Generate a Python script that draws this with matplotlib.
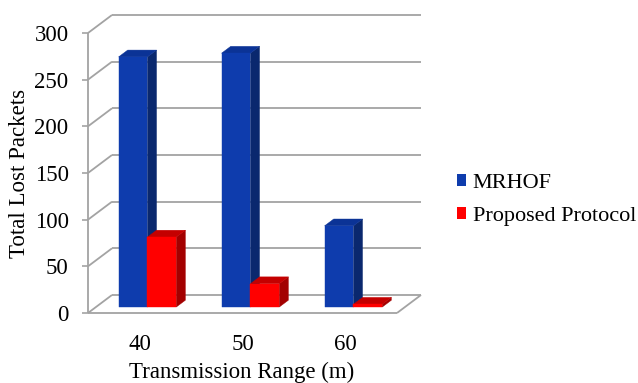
import matplotlib.pyplot as plt
from matplotlib.patches import Polygon, Patch

# Lost packets per transmission range
ranges = ["40", "50", "60"]
mrhof = [268, 272, 87]
proposed = [75, 25, 3]
series_names = ["MRHOF", "Proposed Protocol"]

# face colours: front, side, top
blue = ("#0E3CAD", "#0A286E", "#0B3396")
red = ("#FF0000", "#A30000", "#C40000")
grid_col = "#A3A3A3"

# pseudo-3D depth of the plot box, in data units
depth_dx = 0.233
depth_dy = 19.3
bar_front, bar_back = 0.33, 0.71
bar_w = 0.28

plt.rcParams['font.family'] = ['Liberation Serif', 'DejaVu Serif']

fig = plt.figure(figsize=(6.38, 3.83), dpi=100)
ax = fig.add_axes([88 / 638, 70 / 383, 309 / 638, 280 / 383])
ax.set_xlim(-0.5, 2.5)
ax.set_ylim(0, 300)
for s in ax.spines.values():
    s.set_visible(False)

yticks = list(range(0, 301, 50))
ax.set_yticks(yticks)
ax.set_yticklabels([str(v) for v in yticks], fontsize=16.5)
ax.set_xticks(range(len(ranges)))
ax.set_xticklabels(ranges, fontsize=16.5)
ax.tick_params(axis='y', length=4, width=1.2, color=grid_col, pad=10)
ax.tick_params(axis='x', length=0, pad=15)

x0, x1 = ax.get_xlim()

def line(xs, ys):
    ax.plot(xs, ys, color=grid_col, lw=1.3, clip_on=False, zorder=1,
            solid_capstyle='butt')

# back wall gridlines and left wall diagonals
for v in yticks:
    line([x0 + depth_dx, x1 + depth_dx], [v + depth_dy, v + depth_dy])
    line([x0, x0 + depth_dx], [v, v + depth_dy])
# front vertical axis and floor edges
line([x0, x0], [0, 300])
line([x0, x1], [0, 0])
line([x1, x1 + depth_dx], [0, depth_dy])


def bar3d(xl, h, cols):
    fx, fy = bar_front * depth_dx, bar_front * depth_dy
    bx, by = bar_back * depth_dx, bar_back * depth_dy
    l, r = xl + fx, xl + bar_w + fx
    b, t = fy, fy + h
    ddx, ddy = bx - fx, by - fy
    front = [(l, b), (r, b), (r, t), (l, t)]
    side = [(r, b), (r + ddx, b + ddy), (r + ddx, t + ddy), (r, t)]
    top = [(l, t), (r, t), (r + ddx, t + ddy), (l + ddx, t + ddy)]
    for pts, c in ((side, cols[1]), (top, cols[2]), (front, cols[0])):
        ax.add_patch(Polygon(pts, closed=True, facecolor=c, edgecolor=c,
                             lw=0.3, clip_on=False, zorder=3))


for i in range(len(ranges)):
    bar3d(i - bar_w, mrhof[i], blue)
    bar3d(i, proposed[i], red)

fig.text(20 / 638, 1 - 173 / 383, "Total Lost Packets", rotation=90,
         ha='center', va='center', fontsize=16.5)
fig.text(242 / 638, 5 / 383, "Transmission Range (m)", ha='center',
         va='baseline', fontsize=16.5)

handles = [Patch(facecolor=blue[0]), Patch(facecolor=red[0])]
ax.legend(handles, series_names, loc='center left', frameon=False,
          bbox_to_anchor=(457 / 638, 1 - 200 / 383),
          bbox_transform=fig.transFigure, fontsize=16,
          handlelength=0.4, handleheight=0.45, handletextpad=0.3,
          labelspacing=0.6, borderpad=0, borderaxespad=0)

fig.savefig("out.png", dpi=100)
